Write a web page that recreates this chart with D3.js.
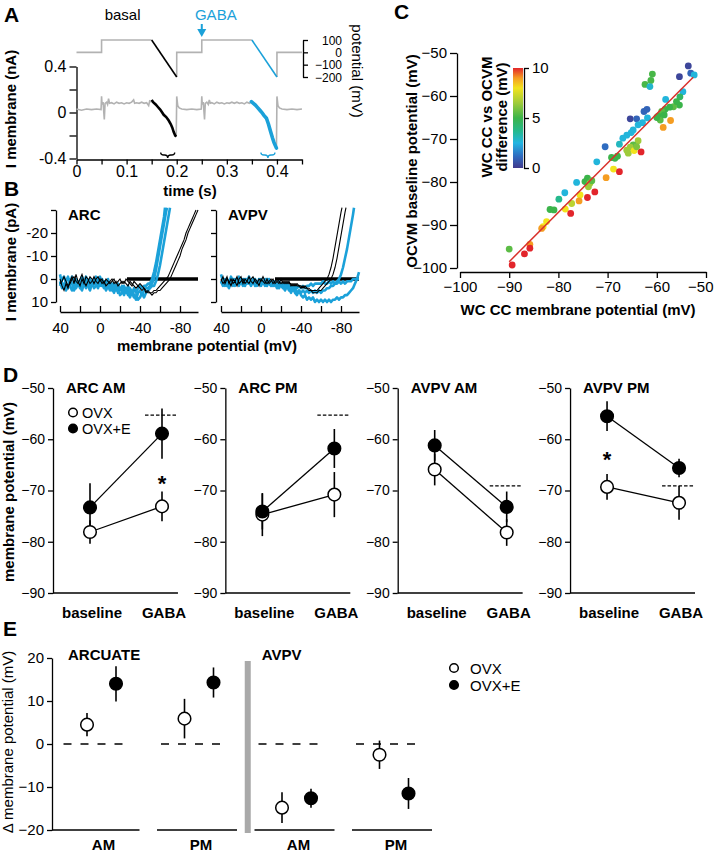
<!DOCTYPE html>
<html>
<head>
<meta charset="utf-8">
<script src="https://d3js.org/d3.v7.min.js"></script>
<style>
  body { margin: 0; background: #fff; }
  svg { display: block; }
</style>
</head>
<body>
<svg id="fig" width="714" height="853"></svg>
<script>
/* ---------------- DATA ---------------- */

// A: voltage protocol (mV) and membrane current (nA) vs time (s)
var aTimeTicks = [0, 0.05, 0.1, 0.15, 0.2, 0.25, 0.3, 0.35, 0.4, 0.45];
var aTimeLabels = ["0", "", "0.1", "", "0.2", "", "0.3", "", "0.4", ""];
var aCurTicks = [-0.4, -0.2, 0, 0.2, 0.4];
var aCurLabels = ["-0.4", "", "0", "", "0.4"];
var aVoltTicks = [100, 0, -100, -200];
var aProtoGrey = [
  [[0, 0], [0.05, 0], [0.05, 100], [0.15, 100]],
  [[0.2, -200], [0.2, 0], [0.25, 0], [0.25, 100], [0.35, 100]],
  [[0.4, -200], [0.4, 0], [0.45, 0]]
];
var aRampBasal = [[0.15, 100], [0.2, -200]];
var aRampGaba = [[0.35, 100], [0.4, -200]];
var aCurGrey = [
  [[0, 0.03], [0.01, 0.02], [0.02, 0.03], [0.03, 0.025], [0.04, 0.03], [0.049, 0.025], [0.05, 0.14], [0.051, 0.07],
   [0.053, 0.09], [0.0555, -0.06], [0.057, 0.08], [0.06, 0.09], [0.062, 0.07], [0.064, 0.12], [0.066, 0.08], [0.07, 0.085],
   [0.075, 0.075], [0.08, 0.09], [0.085, 0.08], [0.09, 0.085], [0.095, 0.075], [0.1, 0.085], [0.105, 0.08], [0.11, 0.09],
   [0.114, 0.11], [0.116, 0.08], [0.12, 0.085], [0.125, 0.08], [0.13, 0.09], [0.135, 0.08], [0.14, 0.085], [0.144, 0.06],
   [0.146, 0.1], [0.15, 0.09]],
  [[0.199, -0.21], [0.2, 0.14], [0.202, 0.06], [0.205, 0.04], [0.21, 0.03], [0.22, 0.025], [0.23, 0.03], [0.24, 0.025],
   [0.249, 0.03], [0.25, 0.14], [0.251, 0.07], [0.253, 0.09], [0.2555, -0.06], [0.257, 0.08], [0.26, 0.09], [0.263, 0.07],
   [0.265, 0.11], [0.267, 0.08], [0.27, 0.085], [0.275, 0.075], [0.28, 0.09], [0.285, 0.08], [0.29, 0.085], [0.295, 0.075],
   [0.3, 0.085], [0.305, 0.08], [0.31, 0.09], [0.315, 0.08], [0.32, 0.09], [0.325, 0.08], [0.33, 0.085], [0.335, 0.075],
   [0.34, 0.09], [0.345, 0.08], [0.349, 0.09]],
  [[0.399, -0.31], [0.4, 0.14], [0.402, 0.06], [0.405, 0.04], [0.41, 0.03], [0.42, 0.025], [0.43, 0.03], [0.44, 0.025], [0.45, 0.03]]
];
var aCurBasal = [[0.15, 0.11], [0.153, 0.09], [0.158, 0.07], [0.162, 0.05], [0.167, 0.025], [0.171, 0.0], [0.174, -0.02],
  [0.179, -0.04], [0.184, -0.07], [0.188, -0.1], [0.191, -0.13], [0.194, -0.17], [0.197, -0.2], [0.199, -0.21]];
var aCurGaba = [[0.349, 0.095], [0.353, 0.08], [0.357, 0.065], [0.361, 0.045], [0.366, 0.02], [0.37, 0.0], [0.374, -0.025],
  [0.379, -0.05], [0.383, -0.1], [0.387, -0.16], [0.391, -0.22], [0.394, -0.26], [0.397, -0.29], [0.399, -0.31]];
var aBrackets = [[0.168, 0.196], [0.368, 0.396]];
var aGabaTime = 0.25;

// B: I-V ramp currents (pA) vs membrane potential (mV)
var bTicksY = [-30, -20, -10, 0, 10];
var bLabelsY = ["", "-20", "-10", "0", "10"];
var bTicksX = [40, 20, 0, -20, -40, -60, -80];
var bLabelsX = ["40", "", "0", "", "-40", "", "-80"];
var arcBlue = [
  [[40,-2],[38,2],[36,4],[34,1],[32,-1],[30,3],[28,5],[26,2],[24,0],[22,3],[20,1],[18,-1],[16,2],[14,4],[12,1],[10,0],[8,3],[6,2],[4,-1],[2,1],[0,3],[-2,2],[-4,4],[-6,1],[-8,3],[-10,5],[-12,2],[-14,4],[-16,3],[-18,6],[-20,4],[-22,5],[-24,7],[-26,4],[-28,6],[-30,8],[-32,5],[-34,7],[-36,9],[-38,6],[-40,5],[-42,7],[-44,5],[-46,4],[-48,4],[-50,3],[-52,2],[-54,0],[-56,-4],[-58,-9],[-60,-14],[-62,-19],[-64,-24],[-66,-29],[-67,-31]],
  [[40,1],[38,4],[36,2],[34,5],[32,3],[30,0],[28,2],[26,5],[24,3],[22,1],[20,4],[18,2],[16,0],[14,1],[12,3],[10,5],[8,2],[6,0],[4,2],[2,4],[0,1],[-2,0],[-4,2],[-6,5],[-8,3],[-10,2],[-12,4],[-14,6],[-16,3],[-18,2],[-20,5],[-22,3],[-24,4],[-26,6],[-28,3],[-30,5],[-32,7],[-34,4],[-36,6],[-38,4],[-40,3],[-42,4],[-44,3],[-46,3],[-48,2],[-50,2],[-52,0],[-54,-3],[-56,-7],[-58,-12],[-60,-17],[-62,-22],[-64,-27],[-65,-31]],
  [[40,3],[38,0],[36,-1],[34,2],[32,4],[30,2],[28,-1],[26,1],[24,4],[22,2],[20,3],[18,5],[16,2],[14,-1],[12,2],[10,3],[8,1],[6,4],[4,3],[2,0],[0,-1],[-2,3],[-4,1],[-6,2],[-8,0],[-10,3],[-12,5],[-14,2],[-16,5],[-18,4],[-20,7],[-22,6],[-24,3],[-26,5],[-28,7],[-30,4],[-32,6],[-34,8],[-36,7],[-38,9],[-40,8],[-42,6],[-44,8],[-46,6],[-48,5],[-50,4],[-52,3],[-54,3],[-56,1],[-58,-2],[-60,-6],[-62,-11],[-64,-16],[-66,-21],[-68,-26],[-70,-31]]
];
var arcBlack = [
  [[40,0],[38,3],[36,5],[34,2],[32,4],[30,1],[28,-1],[26,2],[24,-2],[22,1],[20,3],[18,0],[16,2],[14,-1],[12,0],[10,2],[8,1],[6,-1],[4,1],[2,2],[0,0],[-2,2],[-4,1],[-6,3],[-8,2],[-10,1],[-12,0],[-14,2],[-16,1],[-18,3],[-20,2],[-22,1],[-24,2],[-26,0],[-28,1],[-30,2],[-32,3],[-34,1],[-36,2],[-38,3],[-40,2],[-42,3],[-44,4],[-46,5],[-48,6],[-50,6],[-52,6],[-54,5],[-56,5],[-58,4],[-60,3],[-62,2],[-64,1],[-66,0],[-68,-1],[-70,-3],[-72,-5],[-74,-7],[-76,-9],[-78,-11],[-80,-13],[-82,-15],[-84,-17],[-86,-20],[-88,-22],[-90,-24],[-92,-26],[-94,-28],[-96,-30]],
  [[40,2],[38,1],[36,-1],[34,1],[32,3],[30,2],[28,0],[26,-1],[24,1],[22,2],[20,0],[18,-2],[16,1],[14,3],[12,1],[10,-1],[8,0],[6,2],[4,0],[2,-1],[0,1],[-2,0],[-4,2],[-6,0],[-8,1],[-10,2],[-12,1],[-14,0],[-16,2],[-18,1],[-20,0],[-22,2],[-24,1],[-26,2],[-28,3],[-30,1],[-32,2],[-34,3],[-36,4],[-38,3],[-40,4],[-42,5],[-44,4],[-46,6],[-48,5],[-50,6],[-52,7],[-54,6],[-56,6],[-58,5],[-60,5],[-62,4],[-64,3],[-66,2],[-68,1],[-70,0],[-72,-2],[-74,-4],[-76,-6],[-78,-8],[-80,-10],[-82,-13],[-84,-15],[-86,-17],[-88,-20],[-90,-22],[-92,-24],[-94,-26],[-96,-28],[-98,-30]]
];
var avpvBlue = [
  [[40,-2],[38,1],[36,3],[34,0],[32,2],[30,-1],[28,1],[26,3],[24,0],[22,2],[20,1],[18,3],[16,0],[14,2],[12,1],[10,3],[8,1],[6,0],[4,2],[2,1],[0,3],[-2,1],[-4,2],[-6,0],[-8,2],[-10,3],[-12,1],[-14,2],[-16,4],[-18,2],[-20,3],[-22,4],[-24,2],[-26,3],[-28,5],[-30,4],[-32,5],[-34,4],[-36,6],[-38,5],[-40,6],[-42,5],[-44,6],[-46,5],[-48,6],[-50,5],[-52,6],[-54,5],[-56,6],[-58,5],[-60,6],[-62,5],[-64,5],[-66,4],[-68,4],[-70,3],[-72,3],[-74,2],[-76,1],[-78,0],[-80,-2],[-82,-5],[-84,-9],[-86,-13],[-88,-18],[-90,-23],[-92,-28],[-93,-31]],
  [[40,1],[38,3],[36,0],[34,2],[32,4],[30,1],[28,3],[26,0],[24,2],[22,-1],[20,2],[18,0],[16,3],[14,1],[12,-1],[10,2],[8,0],[6,3],[4,1],[2,2],[0,0],[-2,2],[-4,0],[-6,3],[-8,1],[-10,2],[-12,3],[-14,1],[-16,3],[-18,4],[-20,2],[-22,3],[-24,5],[-26,3],[-28,4],[-30,6],[-32,4],[-34,6],[-36,7],[-38,5],[-40,7],[-42,8],[-44,7],[-46,9],[-48,8],[-50,9],[-52,8],[-54,10],[-56,9],[-58,10],[-60,9],[-62,10],[-64,9],[-66,10],[-68,9],[-70,10],[-72,9],[-74,9],[-76,8],[-78,9],[-80,8],[-82,8],[-84,7],[-86,7],[-88,6],[-90,5],[-92,4],[-94,2],[-96,0],[-98,-3]],
  [[40,2],[38,0],[36,2],[34,3],[32,1],[30,2],[28,0],[26,2],[24,1],[22,3],[20,0],[18,1],[16,2],[14,0],[12,2],[10,1],[8,2],[6,1],[4,3],[2,0],[0,2],[-2,1],[-4,3],[-6,2],[-8,0],[-10,2],[-12,1],[-14,3],[-16,2],[-18,1],[-20,3],[-22,2],[-24,3],[-26,2],[-28,3],[-30,3],[-32,4],[-34,3],[-36,4],[-38,3],[-40,4],[-42,3],[-44,4],[-46,3],[-48,3],[-50,2],[-52,3],[-54,2],[-56,2],[-58,2],[-60,2],[-62,1],[-64,2],[-66,2],[-68,1],[-70,2],[-72,1],[-74,2],[-76,2],[-78,1],[-80,2],[-82,1],[-84,2],[-86,1],[-88,1],[-90,1],[-92,0],[-94,0],[-96,0],[-98,0]]
];
var avpvBlack = [
  [[40,1],[38,-1],[36,2],[34,0],[32,1],[30,3],[28,0],[26,1],[24,-1],[22,2],[20,1],[18,0],[16,2],[14,1],[12,-1],[10,1],[8,2],[6,0],[4,1],[2,3],[0,0],[-2,1],[-4,2],[-6,0],[-8,2],[-10,1],[-12,0],[-14,2],[-16,1],[-18,2],[-20,0],[-22,2],[-24,1],[-26,2],[-28,1],[-30,3],[-32,2],[-34,3],[-36,2],[-38,3],[-40,3],[-42,4],[-44,3],[-46,4],[-48,4],[-50,5],[-52,5],[-54,5],[-56,5],[-58,4],[-60,3],[-62,2],[-64,1],[-66,0],[-68,-2],[-70,-5],[-72,-9],[-74,-14],[-76,-19],[-78,-24],[-80,-29],[-81,-31]],
  [[40,0],[38,2],[36,1],[34,-1],[32,2],[30,0],[28,2],[26,1],[24,3],[22,0],[20,-1],[18,2],[16,0],[14,1],[12,2],[10,0],[8,-1],[6,1],[4,2],[2,0],[0,1],[-2,-1],[-4,1],[-6,2],[-8,1],[-10,0],[-12,2],[-14,1],[-16,0],[-18,1],[-20,2],[-22,1],[-24,2],[-26,1],[-28,2],[-30,2],[-32,3],[-34,2],[-36,3],[-38,3],[-40,4],[-42,3],[-44,4],[-46,4],[-48,5],[-50,5],[-52,6],[-54,6],[-56,6],[-58,5],[-60,5],[-62,4],[-64,3],[-66,2],[-68,1],[-70,0],[-72,-2],[-74,-5],[-76,-9],[-78,-14],[-80,-19],[-82,-24],[-84,-29],[-85,-31]]
];
var bZeroLine = [[-27, -98], [-14, -98]];
var bNames = ["ARC", "AVPV"];

// C: whole-cell CC vs OCVM potentials (mV), colour = difference (mV)
var cWc = [-53.6, -53.1, -52.4, -55.4, -60.9, -61.2, -62.4, -61.4, -54.7, -55.3, -58.2, -62.6, -62.0, -55.4, -56.6, -57.4,
  -58.3, -59.0, -59.7, -59.3, -58.5, -57.2, -58.7, -61.9, -65.4, -64.1, -62.9, -63.8, -64.8, -65.2, -66.1, -66.9, -67.6,
  -63.8, -64.8, -65.4, -66.1, -65.8, -64.6, -63.2, -70.5, -72.2, -69.2, -68.5, -68.0, -68.8, -67.6, -70.3, -74.1, -74.6,
  -73.6, -73.9, -73.2, -76.3, -72.6, -74.1, -75.6, -75.8, -77.3, -78.7, -79.9, -81.7, -80.9, -78.6, -77.5, -82.4, -83.1,
  -83.4, -85.8, -85.8, -86.9, -90.0, -89.4, -64.1, -56.0, -60.0];
var cOcvm = [-53.0, -54.7, -55.1, -55.5, -54.9, -56.4, -57.3, -57.8, -59.0, -60.2, -60.8, -63.6, -63.1, -62.1, -62.5, -62.6,
  -63.1, -63.6, -64.7, -65.6, -64.4, -65.7, -67.3, -65.1, -65.3, -65.3, -66.2, -66.7, -67.9, -68.5, -69.1, -69.8, -71.2,
  -70.4, -71.4, -71.9, -72.6, -73.3, -72.7, -73.0, -71.8, -75.3, -74.3, -74.5, -74.0, -77.0, -77.6, -79.0, -79.1, -79.9,
  -80.3, -81.1, -79.7, -80.1, -82.3, -83.6, -83.0, -84.4, -85.0, -82.5, -84.0, -86.4, -86.5, -86.3, -87.3, -89.2, -90.4,
  -90.8, -94.5, -95.4, -96.7, -95.6, -99.3, -71.8, -61.3, -65.0];
var cDiff = [0.3, 1, 2.6, 0.3, 5.2, 5.2, 5.2, 2.8, 2.6, 4.5, 2.6, 1, 1, 5, 5.5, 5,
  5, 5.5, 5, 5.5, 5, 9, 9, 2.6, 0.3, 1, 2.6, 2.6, 2.6, 2.6, 2.6, 2.6, 3,
  6.5, 5.5, 6.5, 6.5, 6.5, 8, 10, 1.2, 2.6, 5, 5, 5, 8, 10, 9, 5, 5,
  6.5, 6.5, 5.5, 2.6, 10, 10, 8, 9, 7, 2.6, 3.7, 5, 5, 8, 10, 8, 8,
  9, 9, 10, 10, 5.5, 10, 6, 5, 5];
var cTicks = [-100, -90, -80, -70, -60, -50];
var cRegSlope = 1.147, cRegIntercept = 4.7, cRegRange = [-90, -52.6];
var cbValues = [0, 1.2, 2.5, 3.7, 5, 6.5, 8, 9, 10];
var cbColors = ["#41398d", "#2f6cc0", "#22b5e2", "#25b98d", "#3bb44a", "#9fcb3a", "#f2e31c", "#f59d22", "#e2252b"];
var cbTicks = [0, 5, 10];

// D: membrane potential (mV), mean and error, baseline vs GABA
var dPanels = ["ARC AM", "ARC PM", "AVPV AM", "AVPV PM"];
var dConds = ["baseline", "GABA"];
var dOvx = [[-78.1, -73.1], [-74.7, -70.8], [-65.9, -78.2], [-69.3, -72.4]];
var dOvxErr = [[2.3, 2.9], [4.2, 4.4], [3.1, 2.6], [2.5, 3.3]];
var dOvxE = [[-73.3, -58.9], [-74.1, -61.8], [-61.2, -73.2], [-55.5, -65.6]];
var dOvxEErr = [[4.7, 4.9], [3.5, 3.8], [3.0, 3.0], [2.9, 1.8]];
var dRef = [-55.3, -55.3, -69.1, -69.1];
var dStars = [[0, 1, -67.6], [3, 0, -62.9]];
var dTicks = [-50, -60, -70, -80, -90];

// E: change in membrane potential (mV)
var eGroups = ["AM", "PM", "AM", "PM"];
var eRegions = ["ARCUATE", "AVPV"];
var eOvx = [4.5, 5.9, -14.8, -2.5];
var eOvxErr = [2.7, 4.6, 3.6, 3.3];
var eOvxE = [14.0, 14.3, -12.6, -11.5];
var eOvxEErr = [4.1, 3.5, 2.2, 3.6];
var eTicks = [20, 10, 0, -10, -20];

/* ---------------- DRAWING ---------------- */
var FONT = "'Liberation Sans', Arial, Helvetica, sans-serif";
var blue = "#1ba1d9", grey = "#b2b2b2";
var svg = d3.select("#fig").attr("font-family", FONT);

function styleAxis(g, fs) {
  g.attr("font-family", FONT).attr("font-size", fs);
  g.select(".domain").attr("stroke", "#000").attr("stroke-width", 1.3);
  g.selectAll(".tick line").attr("stroke", "#000").attr("stroke-width", 1.3);
  g.selectAll(".tick text").attr("fill", "#000");
  return g;
}
function label(x, y, txt, opts) {
  opts = opts || {};
  var t = svg.append("text").attr("x", x).attr("y", y).text(txt)
    .attr("font-size", opts.size || 15)
    .attr("font-weight", opts.bold === false ? "normal" : "bold")
    .attr("text-anchor", opts.anchor || "start")
    .attr("fill", opts.fill || "#000");
  if (opts.rotate) t.attr("transform", "rotate(" + opts.rotate + "," + x + "," + y + ")");
  return t;
}

// panel letters
label(4, 22, "A", {size: 21});
label(4, 196, "B", {size: 21});
label(394, 19, "C", {size: 21});
label(3, 382, "D", {size: 21});
label(3, 636, "E", {size: 21});

/* ----- A ----- */
var xA = d3.scaleLinear().domain([0, 0.45]).range([76.5, 302]);
var yA = d3.scaleLinear().domain([-0.4, 0.4]).range([158.5, 66.5]);
var vA = d3.scaleLinear().domain([-200, 100]).range([77, 40]);

styleAxis(svg.append("g").attr("transform", "translate(0,159.5)")
  .call(d3.axisBottom(xA).tickValues(aTimeTicks).tickSize(5).tickPadding(1.5).tickSizeOuter(0)
    .tickFormat(function(d, i) { return aTimeLabels[i]; })), 16);
styleAxis(svg.append("g").attr("transform", "translate(76.5,0)")
  .call(d3.axisLeft(yA).tickValues(aCurTicks).tickSize(7).tickSizeOuter(0)
    .tickFormat(function(d, i) { return aCurLabels[i]; })), 16);
var rAx = styleAxis(svg.append("g").attr("transform", "translate(303,0)")
  .call(d3.axisRight(vA).tickValues(aVoltTicks).tickSize(5).tickSizeOuter(0)), 12);
rAx.selectAll(".tick text").attr("x", 39).attr("text-anchor", "end").attr("dy", "0.36em");

var lineA = d3.line().x(function(d) { return xA(d[0]); }).y(function(d) { return yA(d[1]); });
var lineV = d3.line().x(function(d) { return xA(d[0]); }).y(function(d) { return vA(d[1]); });
aProtoGrey.forEach(function(seg) {
  svg.append("path").attr("d", lineV(seg)).attr("fill", "none").attr("stroke", grey).attr("stroke-width", 1.6);
});
svg.append("path").attr("d", lineV(aRampBasal)).attr("fill", "none").attr("stroke", "#000").attr("stroke-width", 1.6);
svg.append("path").attr("d", lineV(aRampGaba)).attr("fill", "none").attr("stroke", blue).attr("stroke-width", 1.6);
aCurGrey.forEach(function(seg) {
  svg.append("path").attr("d", lineA(seg)).attr("fill", "none").attr("stroke", grey).attr("stroke-width", 1.6);
});
svg.append("path").attr("d", lineA(aCurBasal)).attr("fill", "none").attr("stroke", "#000").attr("stroke-width", 2.6);
svg.append("path").attr("d", lineA(aCurGaba)).attr("fill", "none").attr("stroke", blue).attr("stroke-width", 3.6)
  .attr("stroke-linecap", "round");

aBrackets.forEach(function(b, i) {
  var x0 = xA(b[0]), x1 = xA(b[1]), xm = (x0 + x1) / 2, y0 = 152.5, y1 = 155;
  svg.append("path")
    .attr("d", "M" + x0 + "," + y0 + "Q" + x0 + "," + y1 + " " + (x0 + 3) + "," + y1 + "L" + (xm - 3) + "," + y1 +
      "Q" + xm + "," + y1 + " " + xm + "," + (y1 + 3) + "Q" + xm + "," + y1 + " " + (xm + 3) + "," + y1 +
      "L" + (x1 - 3) + "," + y1 + "Q" + x1 + "," + y1 + " " + x1 + "," + y0)
    .attr("fill", "none").attr("stroke", i === 0 ? "#000" : blue).attr("stroke-width", 1.3);
});

label(xA(0.092), 20, "basal", {bold: false, anchor: "middle"});
label(xA(0.278), 20, "GABA", {bold: false, anchor: "middle", fill: blue});
var ax = xA(aGabaTime);
svg.append("line").attr("x1", ax).attr("x2", ax).attr("y1", 24).attr("y2", 31).attr("stroke", blue).attr("stroke-width", 2);
svg.append("path").attr("d", "M" + (ax - 4.5) + ",29L" + (ax + 4.5) + ",29L" + ax + ",37Z").attr("fill", blue);
label(16, 109, "I membrane (nA)", {rotate: -90, anchor: "middle"});
label(190, 195.5, "time (s)", {anchor: "middle"});
label(352, 71, "potential (mV)", {rotate: 90, anchor: "middle", bold: false});

/* ----- B ----- */
var yB = d3.scaleLinear().domain([10, -30]).range([302, 210]);
var bX = [d3.scaleLinear().domain([40, -98]).range([60, 198]), d3.scaleLinear().domain([40, -98]).range([221, 359])];
var bAxisX = [56, 216];
var bTraces = [[arcBlack, arcBlue], [avpvBlack, avpvBlue]];
bNames.forEach(function(name, p) {
  var xs = bX[p];
  styleAxis(svg.append("g").attr("transform", "translate(" + bAxisX[p] + ",0)")
    .call(d3.axisLeft(yB).tickValues(bTicksY).tickSize(5).tickSizeOuter(0)
      .tickFormat(function(d, i) { return p === 0 ? bLabelsY[i] : ""; })), 15);
  styleAxis(svg.append("g").attr("transform", "translate(0,312)")
    .call(d3.axisTop(xs).tickValues(bTicksX).tickSize(6).tickSizeOuter(0)
      .tickFormat(function(d, i) { return bLabelsX[i]; })), 15)
    .selectAll(".tick text").attr("y", 21);
  var ln = d3.line().x(function(d) { return xs(d[0]); }).y(function(d) { return yB(d[1]); });
  svg.append("line").attr("x1", xs(bZeroLine[p][0])).attr("x2", xs(bZeroLine[p][1]))
    .attr("y1", yB(0)).attr("y2", yB(0)).attr("stroke", "#000").attr("stroke-width", 3.6);
  bTraces[p][1].forEach(function(tr) {
    svg.append("path").attr("d", ln(tr)).attr("fill", "none").attr("stroke", blue).attr("stroke-width", 2.6)
      .attr("stroke-linejoin", "round");
  });
  bTraces[p][0].forEach(function(tr) {
    svg.append("path").attr("d", ln(tr)).attr("fill", "none").attr("stroke", "#000").attr("stroke-width", 1.1);
  });
  label(bAxisX[p] + 12, 220, name);
});
label(16, 262, "I membrane (pA)", {rotate: -90, anchor: "middle"});
label(207, 351, "membrane potential (mV)", {anchor: "middle"});

/* ----- C ----- */
var xC = d3.scaleLinear().domain([-100, -50]).range([460, 706]);
var yC = d3.scaleLinear().domain([-100, -50]).range([268, 53]);
var colC = d3.scaleLinear().domain(cbValues).range(cbColors);
var cxAx = styleAxis(svg.append("g").attr("transform", "translate(0,272)")
  .call(d3.axisBottom(xC).tickValues(cTicks).tickSize(6).tickSizeOuter(0)), 15);
cxAx.selectAll(".tick text").filter(function(d) { return d === -50; }).attr("text-anchor", "end").attr("x", 7);
styleAxis(svg.append("g").attr("transform", "translate(457,0)")
  .call(d3.axisLeft(yC).tickValues(cTicks).tickSize(7).tickSizeOuter(0)), 15);
svg.append("g").selectAll("circle").data(cWc).enter().append("circle")
  .attr("cx", function(d) { return xC(d); })
  .attr("cy", function(d, i) { return yC(cOcvm[i]); })
  .attr("r", 3.4)
  .attr("fill", function(d, i) { return colC(cDiff[i]); });
svg.append("line")
  .attr("x1", xC(cRegRange[0])).attr("y1", yC(cRegSlope * cRegRange[0] + cRegIntercept))
  .attr("x2", xC(cRegRange[1])).attr("y2", yC(cRegSlope * cRegRange[1] + cRegIntercept))
  .attr("stroke", "#d9302b").attr("stroke-width", 1.5);

var cbY = d3.scaleLinear().domain([0, 10]).range([168, 68]);
var grad = svg.append("defs").append("linearGradient").attr("id", "cbGrad")
  .attr("x1", 0).attr("y1", 1).attr("x2", 0).attr("y2", 0);
cbValues.forEach(function(v, i) {
  grad.append("stop").attr("offset", v / 10).attr("stop-color", cbColors[i]);
});
svg.append("rect").attr("x", 513).attr("y", cbY(10)).attr("width", 10).attr("height", cbY(0) - cbY(10))
  .attr("fill", "url(#cbGrad)");
styleAxis(svg.append("g").attr("transform", "translate(524,0)")
  .call(d3.axisRight(cbY).tickValues(cbTicks).tickSize(5).tickSizeOuter(0)), 15);
label(492, 117, "WC CC vs OCVM", {rotate: -90, anchor: "middle"});
label(507, 117, "difference (mV)", {rotate: -90, anchor: "middle"});
label(417, 161, "OCVM baseline potential (mV)", {rotate: -90, anchor: "middle"});
label(578, 315, "WC CC membrane potential (mV)", {anchor: "middle"});

/* ----- D ----- */
var yD = d3.scaleLinear().domain([-90, -50]).range([593, 388]);
var panelX = d3.scaleBand().domain(dPanels).range([53, 695]).paddingInner(0.275);
var condX = d3.scalePoint().domain(dConds).range([37, 109]);

function errBar(g, x, y, err, ys) {
  g.append("line").attr("x1", x).attr("x2", x).attr("y1", ys(y - err)).attr("y2", ys(y + err))
    .attr("stroke", "#000").attr("stroke-width", 1.6);
}
function dot(g, x, y, filled, r) {
  g.append("circle").attr("cx", x).attr("cy", y).attr("r", r)
    .attr("fill", filled ? "#000" : "#fff").attr("stroke", "#000").attr("stroke-width", 1.5);
}

dPanels.forEach(function(name, p) {
  var x0 = panelX(name), w = panelX.bandwidth();
  var g = svg.append("g");
  styleAxis(g.append("g").attr("transform", "translate(" + x0 + ",0)")
    .call(d3.axisLeft(yD).tickValues(dTicks).tickSize(5).tickSizeOuter(0)), 14);
  g.append("line").attr("x1", x0).attr("x2", x0 + w).attr("y1", yD(-90)).attr("y2", yD(-90))
    .attr("stroke", "#000").attr("stroke-width", 1.3);
  var gx = x0 + condX("GABA");
  g.append("line").attr("x1", gx - 17).attr("x2", gx + 16).attr("y1", yD(dRef[p])).attr("y2", yD(dRef[p]))
    .attr("stroke", "#000").attr("stroke-width", 1.3).attr("stroke-dasharray", "3.5,2");
  [dOvx, dOvxE].forEach(function(series, s) {
    var errs = s === 0 ? dOvxErr : dOvxEErr;
    dConds.forEach(function(c, ci) { errBar(g, x0 + condX(c), series[p][ci], errs[p][ci], yD); });
    g.append("line").attr("x1", x0 + condX("baseline")).attr("x2", gx)
      .attr("y1", yD(series[p][0])).attr("y2", yD(series[p][1])).attr("stroke", "#000").attr("stroke-width", 1.3);
  });
  [dOvx, dOvxE].forEach(function(series, s) {
    dConds.forEach(function(c, ci) { dot(g, x0 + condX(c), yD(series[p][ci]), s === 1, 6.3); });
  });
  dConds.forEach(function(c) { label(x0 + condX(c) + 2, 618, c, {anchor: "middle"}); });
  label(x0 + 13, 393, name);
});
dStars.forEach(function(s) {
  label(panelX(dPanels[s[0]]) + condX(dConds[s[1]]), yD(s[2]) + 12.5, "*", {size: 22, anchor: "middle"});
});
// legend D
var lx = panelX(dPanels[0]) + 20;
dot(svg, lx, 412.5, false, 4.3);
dot(svg, lx, 428.5, true, 4.3);
label(lx + 9, 418, "OVX", {bold: false, size: 14.5});
label(lx + 9, 434, "OVX+E", {bold: false, size: 14.5});
label(14, 492, "membrane potential (mV)", {rotate: -90, anchor: "middle"});

/* ----- E ----- */
var yE = d3.scaleLinear().domain([-20, 20]).range([830, 658]);
var xE = d3.scalePoint().domain(d3.range(eGroups.length)).range([101.5, 394]);
styleAxis(svg.append("g").attr("transform", "translate(52,0)")
  .call(d3.axisLeft(yE).tickValues(eTicks).tickSize(5).tickSizeOuter(0)), 15);
var divX = (xE(1) + xE(2)) / 2;
svg.append("rect").attr("x", divX - 3).attr("y", 661).attr("width", 6).attr("height", 172).attr("fill", "#a9a9a9");
eGroups.forEach(function(gname, i) {
  var c = xE(i);
  svg.append("line").attr("x1", i === 0 ? 52 : c - 42).attr("x2", c + 38).attr("y1", yE(-20)).attr("y2", yE(-20))
    .attr("stroke", "#000").attr("stroke-width", 1.4);
  svg.append("line").attr("x1", c - 38).attr("x2", c + 28).attr("y1", yE(0)).attr("y2", yE(0))
    .attr("stroke", "#000").attr("stroke-width", 1.3).attr("stroke-dasharray", "8,9");
  errBar(svg, c - 14.5, eOvx[i], eOvxErr[i], yE);
  errBar(svg, c + 14.5, eOvxE[i], eOvxEErr[i], yE);
  dot(svg, c - 14.5, yE(eOvx[i]), false, 6.3);
  dot(svg, c + 14.5, yE(eOvxE[i]), true, 6.3);
  label(c + 2, 850, gname, {anchor: "middle"});
});
label(68, 660, eRegions[0]);
label(divX + 14, 660, eRegions[1]);
dot(svg, 454, 668, false, 4.3);
dot(svg, 454, 685, true, 4.3);
label(470, 673.5, "OVX", {bold: false});
label(470, 690.5, "OVX+E", {bold: false});
label(13, 742, "\u0394 membrane potential (mV)", {rotate: -90, anchor: "middle", bold: false});
</script>
</body>
</html>
